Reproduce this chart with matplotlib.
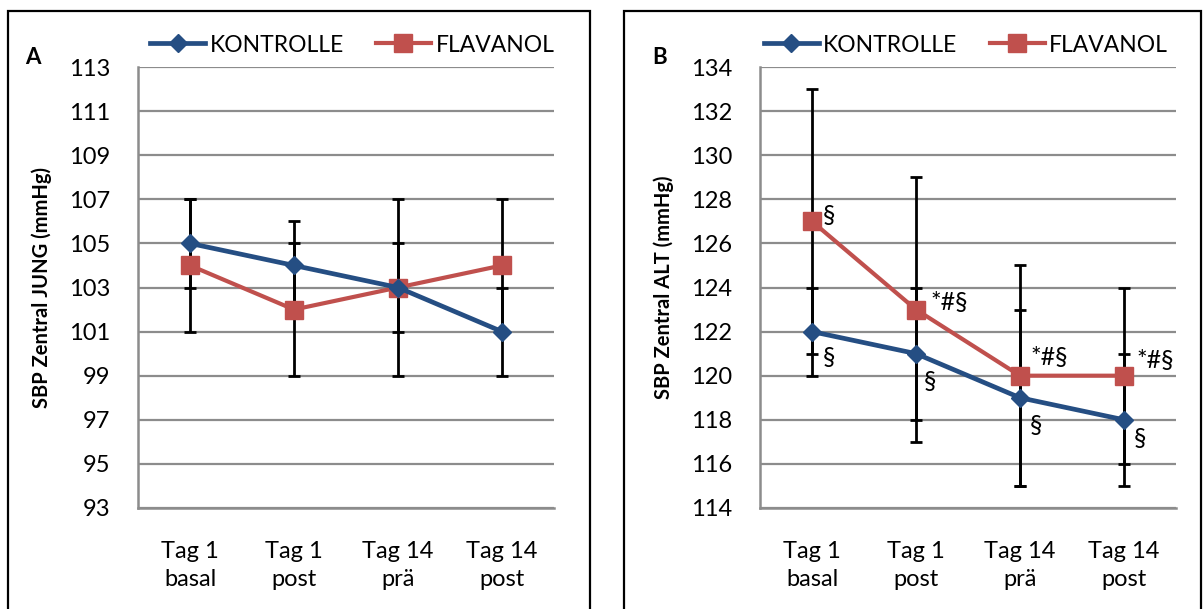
import matplotlib.pyplot as plt
from matplotlib.patches import Rectangle

# Mean SBP values per time point, with SD for error bars
categories = ["Tag 1\nbasal", "Tag 1\npost", "Tag 14\nprä", "Tag 14\npost"]

jung_kontrolle = [105, 104, 103, 101]
jung_kontrolle_sd = [2, 2, 2, 2]
jung_flavanol = [104, 102, 103, 104]
jung_flavanol_sd = [3, 3, 4, 3]

alt_kontrolle = [122, 121, 119, 118]
alt_kontrolle_sd = [2, 3, 4, 3]
alt_flavanol = [127, 123, 120, 120]
alt_flavanol_sd = [6, 6, 5, 4]

alt_kontrolle_marks = ["§", "§", "§", "§"]
alt_flavanol_marks = ["§", "*#§", "*#§", "*#§"]

BLUE = "#254E83"
RED = "#C0504D"
GRID = "#8C8C8C"

plt.rcParams['font.family'] = ['Lato', 'DejaVu Sans']

W, H = 1203, 609
fig = plt.figure(figsize=(W / 100, H / 100), dpi=100)


def px_box(x0, y0, x1, y1):
    return [x0 / W, 1 - y1 / H, (x1 - x0) / W, (y1 - y0) / H]


def draw_panel(ax, kon, kon_sd, fla, fla_sd, ylim, ylabel, legend_x):
    x = range(len(categories))
    ax.errorbar(x, kon, yerr=kon_sd, fmt='none', ecolor='black',
                elinewidth=2.0, capsize=4.5, capthick=2.0, zorder=2)
    ax.errorbar(x, fla, yerr=fla_sd, fmt='none', ecolor='black',
                elinewidth=2.0, capsize=4.5, capthick=2.0, zorder=2)
    ax.plot(x, kon, color=BLUE, lw=3.4, marker='D', ms=9.5,
            label='KONTROLLE', zorder=4)
    ax.plot(x, fla, color=RED, lw=3.0, marker='s', ms=13,
            label='FLAVANOL', zorder=3)

    ax.set_xlim(-0.5, len(categories) - 0.5)
    ax.set_ylim(*ylim)
    ax.set_yticks(range(ylim[0], ylim[1] + 1, 2))
    ax.set_xticks(list(x))
    ax.set_xticklabels(categories, linespacing=1.4)
    ax.tick_params(axis='y', length=0, pad=20, labelsize=17)
    ax.tick_params(axis='x', length=0, pad=24, labelsize=17)
    ax.yaxis.grid(True, color=GRID, lw=1.6)
    ax.set_axisbelow(True)
    for side in ['top', 'right']:
        ax.spines[side].set_visible(False)
    for side in ['left', 'bottom']:
        ax.spines[side].set_color(GRID)
        ax.spines[side].set_linewidth(1.8)
    ax.set_ylabel(ylabel, fontsize=14.5, fontweight='bold', labelpad=12)
    ax.legend(loc='center', bbox_to_anchor=(legend_x, 1 + 22 / 441), ncol=2,
              frameon=False, fontsize=16.5, handlelength=2.4,
              handletextpad=0.2, columnspacing=1.4, borderaxespad=0.0,
              borderpad=0.0)


# Panel frames
fig.patches.append(Rectangle((8 / W, -0.05), (590 - 8) / W, 1 - 11 / H + 0.05,
                             transform=fig.transFigure, fill=False,
                             edgecolor='black', lw=1.6))
fig.patches.append(Rectangle((624 / W, -0.05), (1201 - 624) / W, 1 - 11 / H + 0.05,
                             transform=fig.transFigure, fill=False,
                             edgecolor='black', lw=1.6))

ax_a = fig.add_axes(px_box(138, 67, 554, 508))
draw_panel(ax_a, jung_kontrolle, jung_kontrolle_sd, jung_flavanol,
           jung_flavanol_sd, (93, 113), 'SBP Zentral JUNG (mmHg)', 0.515)

ax_b = fig.add_axes(px_box(760, 67, 1176, 508))
draw_panel(ax_b, alt_kontrolle, alt_kontrolle_sd, alt_flavanol,
           alt_flavanol_sd, (114, 134), 'SBP Zentral ALT (mmHg)', 0.495)

# Significance markers
fla_offsets = [(17, 6), (33, 7), (29, 18), (31, 15)]
kon_offsets = [(17, -26), (14, -28), (16, -28), (16, -19)]
for i, (mark, off) in enumerate(zip(alt_flavanol_marks, fla_offsets)):
    ax_b.annotate(mark, (i, alt_flavanol[i]), xytext=off,
                  textcoords='offset pixels', ha='center', va='center',
                  fontsize=18, zorder=5)
for i, (mark, off) in enumerate(zip(alt_kontrolle_marks, kon_offsets)):
    ax_b.annotate(mark, (i, alt_kontrolle[i]), xytext=off,
                  textcoords='offset pixels', ha='center', va='center',
                  fontsize=18, zorder=5)

fig.text(33 / W, 1 - 57 / H, 'A', fontsize=16, fontweight='bold',
         ha='center', va='center')
fig.text(660 / W, 1 - 57 / H, 'B', fontsize=16, fontweight='bold',
         ha='center', va='center')

fig.savefig('out.png', dpi=100)
